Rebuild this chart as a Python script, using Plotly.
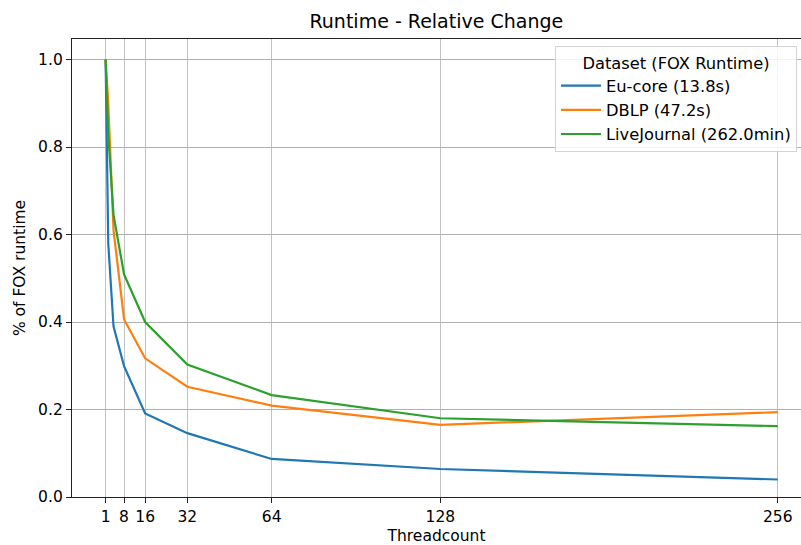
import plotly.graph_objects as go

# Thread counts measured and runtime relative to the single-thread FOX run
threads = [1, 2, 4, 8, 16, 32, 64, 128, 256]
eu_core = [1.0, 0.58, 0.39, 0.299, 0.191, 0.146, 0.087, 0.064, 0.040]
dblp = [1.0, 0.90, 0.61, 0.406, 0.317, 0.252, 0.209, 0.165, 0.194]
livejournal = [1.0, 0.83, 0.645, 0.509, 0.400, 0.303, 0.233, 0.180, 0.162]

series_names = ["Eu-core (13.8s)", "DBLP (47.2s)", "LiveJournal (262.0min)"]
series_values = [eu_core, dblp, livejournal]
series_colors = ["#1f77b4", "#ff7f0e", "#2ca02c"]

x_ticks = [1, 8, 16, 32, 64, 128, 256]
y_ticks = [0.0, 0.2, 0.4, 0.6, 0.8, 1.0]

FONT = "DejaVu Sans"

fig = go.Figure()
for name, vals, color in zip(series_names, series_values, series_colors):
    fig.add_trace(go.Scatter(
        x=threads, y=vals, mode="lines", name=name,
        line=dict(color=color, width=2.2),
    ))

fig.update_layout(
    width=801, height=545,
    margin=dict(l=72, r=0, t=39, b=48),
    paper_bgcolor="white", plot_bgcolor="white",
    font=dict(family=FONT, size=15.5, color="#000000"),
    title=dict(
        text="Runtime - Relative Change",
        x=(71.7 + 801) / 2 / 801, xanchor="center",
        y=1 - 21 / 545, yanchor="middle",
        font=dict(family=FONT, size=19, color="#000000"),
    ),
    showlegend=True,
    legend=dict(
        x=0.9945, xanchor="right", y=0.984, yanchor="top",
        bgcolor="rgba(255,255,255,0.85)",
        bordercolor="#d4d4d4", borderwidth=1,
        font=dict(family=FONT, size=16.3, color="#000000"),
        title=dict(text="Dataset (FOX Runtime)", side="top center",
                   font=dict(family=FONT, size=16.3, color="#000000")),
        tracegroupgap=0, itemwidth=40,
    ),
)

fig.update_xaxes(
    range=[-11.75, 264.8], automargin=False,
    tickmode="array", tickvals=x_ticks, ticktext=[str(v) for v in x_ticks],
    showgrid=True, gridcolor="#c2c2c2", gridwidth=1.3,
    zeroline=False,
    showline=True, linecolor="#222222", linewidth=1.3, mirror=True,
    ticks="outside", ticklen=5, tickwidth=1.2, tickcolor="#222222",
    title=dict(text="Threadcount", font=dict(family=FONT, size=15.5), standoff=12),
)

fig.update_yaxes(
    range=[0, 1.047], automargin=False,
    tickmode="array", tickvals=y_ticks, ticktext=[f"{v:.1f}" for v in y_ticks],
    showgrid=True, gridcolor="#b0b0b0", gridwidth=1.3,
    zeroline=False,
    showline=True, linecolor="#222222", linewidth=1.3,
    ticks="outside", ticklen=5, tickwidth=1.2, tickcolor="#222222",
    title=dict(text="% of FOX runtime", font=dict(family=FONT, size=15.5), standoff=8),
)

fig.write_html("out.html")
